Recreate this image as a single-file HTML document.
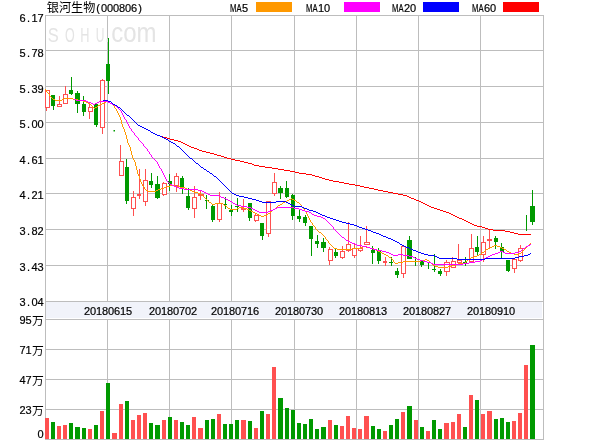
<!DOCTYPE html><html><head><meta charset="utf-8"><title>银河生物(000806)</title><style>html,body{margin:0;padding:0;background:#fff}svg{display:block}</style></head><body><svg width="600" height="440" viewBox="0 0 600 440"><rect width="600" height="440" fill="#fff"/><rect x="46" y="302" width="496" height="16" fill="#f1f3fa"/><g fill="#bdbdbd" shape-rendering="crispEdges"><rect x="45" y="15" width="499" height="1"/><rect x="45" y="50" width="499" height="1"/><rect x="45" y="86" width="499" height="1"/><rect x="45" y="122" width="499" height="1"/><rect x="45" y="158" width="499" height="1"/><rect x="45" y="193" width="499" height="1"/><rect x="45" y="229" width="499" height="1"/><rect x="45" y="265" width="499" height="1"/><rect x="45" y="301" width="499" height="1"/><rect x="45" y="319" width="499" height="1"/><rect x="45" y="349" width="499" height="1"/><rect x="45" y="379" width="499" height="1"/><rect x="45" y="409" width="499" height="1"/><rect x="45" y="439" width="499" height="1"/><rect x="45" y="15" width="1" height="425"/><rect x="107" y="15" width="1" height="287"/><rect x="107" y="319" width="1" height="121"/><rect x="169" y="15" width="1" height="287"/><rect x="169" y="319" width="1" height="121"/><rect x="231" y="15" width="1" height="287"/><rect x="231" y="319" width="1" height="121"/><rect x="294" y="15" width="1" height="287"/><rect x="294" y="319" width="1" height="121"/><rect x="356" y="15" width="1" height="287"/><rect x="356" y="319" width="1" height="121"/><rect x="418" y="15" width="1" height="287"/><rect x="418" y="319" width="1" height="121"/><rect x="480" y="15" width="1" height="287"/><rect x="480" y="319" width="1" height="121"/><rect x="543" y="15" width="1" height="425"/></g><g fill="#e4e4e4" font-family="Liberation Sans, sans-serif"><text x="47.7" y="42" font-size="20.5px" textLength="11.0" lengthAdjust="spacingAndGlyphs">S</text><text x="64.9" y="42" font-size="20.5px" textLength="9.7" lengthAdjust="spacingAndGlyphs">O</text><text x="80.3" y="42" font-size="20.5px" textLength="9.2" lengthAdjust="spacingAndGlyphs">H</text><text x="95.7" y="42" font-size="20.5px" textLength="8.7" lengthAdjust="spacingAndGlyphs">U</text><text x="104.5" y="42" font-size="28px" textLength="52" lengthAdjust="spacingAndGlyphs">.com</text></g><g shape-rendering="crispEdges"><rect x="46" y="108" width="1" height="3" fill="#ff5050"/><rect x="45.5" y="90.5" width="4" height="17" fill="#fff" stroke="#ff5050" stroke-width="1"/><rect x="53" y="95" width="1" height="15" fill="#009900"/><rect x="51" y="95" width="4" height="11" fill="#009900"/><rect x="59" y="96" width="1" height="8" fill="#ff5050"/><rect x="57.5" y="104.5" width="4" height="2" fill="#fff" stroke="#ff5050" stroke-width="1"/><rect x="65" y="86" width="1" height="8" fill="#ff5050"/><rect x="63.5" y="94.5" width="4" height="9" fill="#fff" stroke="#ff5050" stroke-width="1"/><rect x="71" y="77" width="1" height="18" fill="#009900"/><rect x="69" y="90" width="4" height="4" fill="#009900"/><rect x="77" y="91" width="1" height="22" fill="#009900"/><rect x="75" y="93" width="5" height="11" fill="#009900"/><rect x="83" y="96" width="1" height="20" fill="#009900"/><rect x="82" y="104" width="4" height="8" fill="#009900"/><rect x="89" y="104" width="1" height="3" fill="#ff5050"/><rect x="89" y="112" width="1" height="7" fill="#ff5050"/><rect x="88.5" y="107.5" width="4" height="4" fill="#fff" stroke="#ff5050" stroke-width="1"/><rect x="96" y="104" width="1" height="23" fill="#009900"/><rect x="94" y="104" width="4" height="21" fill="#009900"/><rect x="102" y="79" width="1" height="1" fill="#ff5050"/><rect x="102" y="128" width="1" height="6" fill="#ff5050"/><rect x="100.5" y="80.5" width="4" height="47" fill="#fff" stroke="#ff5050" stroke-width="1"/><rect x="108" y="38" width="1" height="56" fill="#009900"/><rect x="106" y="64" width="4" height="17" fill="#009900"/><rect x="113.5" y="130" width="1.5" height="1.5" fill="#009900" shape-rendering="auto"/><rect x="120" y="145" width="1" height="16" fill="#ff5050"/><rect x="119.5" y="161.5" width="4" height="14" fill="#fff" stroke="#ff5050" stroke-width="1"/><rect x="126" y="159" width="1" height="45" fill="#009900"/><rect x="125" y="167" width="4" height="34" fill="#009900"/><rect x="133" y="191" width="1" height="6" fill="#ff5050"/><rect x="133" y="209" width="1" height="7" fill="#ff5050"/><rect x="131.5" y="197.5" width="4" height="11" fill="#fff" stroke="#ff5050" stroke-width="1"/><rect x="139" y="169" width="1" height="30" fill="#ff5050"/><rect x="137" y="194" width="4" height="2" fill="#ff5050"/><rect x="145" y="169" width="1" height="11" fill="#ff5050"/><rect x="145" y="202" width="1" height="4" fill="#ff5050"/><rect x="143.5" y="180.5" width="4" height="21" fill="#fff" stroke="#ff5050" stroke-width="1"/><rect x="151" y="173" width="1" height="15" fill="#009900"/><rect x="149" y="181" width="4" height="4" fill="#009900"/><rect x="157" y="176" width="1" height="23" fill="#009900"/><rect x="155" y="184" width="5" height="14" fill="#009900"/><rect x="163" y="182" width="1" height="1" fill="#ff5050"/><rect x="163" y="195" width="1" height="1" fill="#ff5050"/><rect x="162.5" y="183.5" width="4" height="11" fill="#fff" stroke="#ff5050" stroke-width="1"/><rect x="169" y="174" width="1" height="17" fill="#009900"/><rect x="168" y="181" width="4" height="3" fill="#009900"/><rect x="176" y="173" width="1" height="3" fill="#ff5050"/><rect x="176" y="186" width="1" height="6" fill="#ff5050"/><rect x="174.5" y="176.5" width="4" height="9" fill="#fff" stroke="#ff5050" stroke-width="1"/><rect x="182" y="176" width="1" height="18" fill="#009900"/><rect x="180" y="178" width="4" height="11" fill="#009900"/><rect x="188" y="188" width="1" height="22" fill="#009900"/><rect x="186" y="196" width="4" height="12" fill="#009900"/><rect x="194" y="186" width="1" height="11" fill="#ff5050"/><rect x="194" y="209" width="1" height="9" fill="#ff5050"/><rect x="192.5" y="197.5" width="4" height="11" fill="#fff" stroke="#ff5050" stroke-width="1"/><rect x="200" y="190" width="1" height="4" fill="#ff5050"/><rect x="200" y="196" width="1" height="4" fill="#ff5050"/><rect x="198.5" y="194.5" width="5" height="1" fill="#fff" stroke="#ff5050" stroke-width="1"/><rect x="206" y="195" width="1" height="14" fill="#009900"/><rect x="205" y="200" width="4" height="1" fill="#009900"/><rect x="212" y="205" width="1" height="17" fill="#009900"/><rect x="211" y="206" width="4" height="14" fill="#009900"/><rect x="219" y="192" width="1" height="11" fill="#ff5050"/><rect x="219" y="220" width="1" height="2" fill="#ff5050"/><rect x="217.5" y="203.5" width="4" height="16" fill="#fff" stroke="#ff5050" stroke-width="1"/><rect x="225" y="197" width="1" height="12" fill="#009900"/><rect x="223" y="204" width="4" height="1" fill="#009900"/><rect x="231" y="205" width="1" height="11" fill="#009900"/><rect x="229" y="210" width="4" height="2" fill="#009900"/><rect x="237" y="198" width="1" height="14" fill="#009900"/><rect x="235" y="206" width="4" height="1" fill="#009900"/><rect x="243" y="199" width="1" height="13" fill="#ff5050"/><rect x="241" y="208" width="5" height="2" fill="#ff5050"/><rect x="249" y="203" width="1" height="18" fill="#009900"/><rect x="248" y="203" width="4" height="15" fill="#009900"/><rect x="255" y="214" width="1" height="1" fill="#ff5050"/><rect x="255" y="221" width="1" height="1" fill="#ff5050"/><rect x="254.5" y="215.5" width="4" height="5" fill="#fff" stroke="#ff5050" stroke-width="1"/><rect x="262" y="223" width="1" height="17" fill="#009900"/><rect x="260" y="223" width="4" height="13" fill="#009900"/><rect x="268" y="234" width="1" height="3" fill="#ff5050"/><rect x="266.5" y="201.5" width="4" height="32" fill="#fff" stroke="#ff5050" stroke-width="1"/><rect x="274" y="173" width="1" height="9" fill="#ff5050"/><rect x="274" y="194" width="1" height="2" fill="#ff5050"/><rect x="272.5" y="182.5" width="4" height="11" fill="#fff" stroke="#ff5050" stroke-width="1"/><rect x="280" y="186" width="1" height="13" fill="#009900"/><rect x="278" y="188" width="5" height="5" fill="#009900"/><rect x="286" y="181" width="1" height="17" fill="#009900"/><rect x="285" y="188" width="4" height="9" fill="#009900"/><rect x="292" y="194" width="1" height="26" fill="#009900"/><rect x="291" y="195" width="4" height="21" fill="#009900"/><rect x="299" y="209" width="1" height="13" fill="#009900"/><rect x="297" y="216" width="4" height="3" fill="#009900"/><rect x="305" y="215" width="1" height="11" fill="#009900"/><rect x="303" y="217" width="4" height="6" fill="#009900"/><rect x="311" y="226" width="1" height="30" fill="#009900"/><rect x="309" y="226" width="4" height="13" fill="#009900"/><rect x="317" y="235" width="1" height="13" fill="#009900"/><rect x="315" y="241" width="4" height="3" fill="#009900"/><rect x="323" y="238" width="1" height="14" fill="#009900"/><rect x="321" y="242" width="5" height="6" fill="#009900"/><rect x="329" y="247" width="1" height="2" fill="#ff5050"/><rect x="329" y="261" width="1" height="4" fill="#ff5050"/><rect x="328.5" y="249.5" width="4" height="11" fill="#fff" stroke="#ff5050" stroke-width="1"/><rect x="335" y="249" width="1" height="9" fill="#009900"/><rect x="334" y="252" width="4" height="4" fill="#009900"/><rect x="342" y="246" width="1" height="5" fill="#ff5050"/><rect x="342" y="258" width="1" height="1" fill="#ff5050"/><rect x="340.5" y="251.5" width="4" height="6" fill="#fff" stroke="#ff5050" stroke-width="1"/><rect x="348" y="222" width="1" height="22" fill="#ff5050"/><rect x="348" y="251" width="1" height="1" fill="#ff5050"/><rect x="346.5" y="244.5" width="4" height="6" fill="#fff" stroke="#ff5050" stroke-width="1"/><rect x="354" y="244" width="1" height="4" fill="#ff5050"/><rect x="354" y="256" width="1" height="2" fill="#ff5050"/><rect x="352.5" y="248.5" width="4" height="7" fill="#fff" stroke="#ff5050" stroke-width="1"/><rect x="360" y="236" width="1" height="12" fill="#ff5050"/><rect x="360" y="251" width="1" height="1" fill="#ff5050"/><rect x="358.5" y="248.5" width="4" height="2" fill="#fff" stroke="#ff5050" stroke-width="1"/><rect x="366" y="226" width="1" height="16" fill="#ff5050"/><rect x="364.5" y="242.5" width="5" height="2" fill="#fff" stroke="#ff5050" stroke-width="1"/><rect x="372" y="246" width="1" height="18" fill="#009900"/><rect x="371" y="250" width="4" height="3" fill="#009900"/><rect x="378" y="248" width="1" height="16" fill="#009900"/><rect x="377" y="251" width="4" height="10" fill="#009900"/><rect x="385" y="257" width="1" height="9" fill="#ff5050"/><rect x="383" y="261" width="4" height="2" fill="#ff5050"/><rect x="391" y="257" width="1" height="9" fill="#009900"/><rect x="389" y="262" width="4" height="1" fill="#009900"/><rect x="397" y="268" width="1" height="10" fill="#009900"/><rect x="395" y="271" width="4" height="4" fill="#009900"/><rect x="403" y="274" width="1" height="4" fill="#ff5050"/><rect x="401.5" y="246.5" width="4" height="27" fill="#fff" stroke="#ff5050" stroke-width="1"/><rect x="409" y="236" width="1" height="23" fill="#009900"/><rect x="407" y="240" width="5" height="19" fill="#009900"/><rect x="415" y="257" width="1" height="9" fill="#009900"/><rect x="421" y="260" width="1" height="7" fill="#009900"/><rect x="420" y="261" width="4" height="4" fill="#009900"/><rect x="428" y="262" width="1" height="7" fill="#009900"/><rect x="434" y="254" width="1" height="18" fill="#009900"/><rect x="432" y="269" width="4" height="1" fill="#009900"/><rect x="440" y="269" width="1" height="7" fill="#009900"/><rect x="438" y="271" width="4" height="3" fill="#009900"/><rect x="446" y="260" width="1" height="2" fill="#ff5050"/><rect x="446" y="272" width="1" height="4" fill="#ff5050"/><rect x="444.5" y="262.5" width="5" height="9" fill="#fff" stroke="#ff5050" stroke-width="1"/><rect x="452" y="257" width="1" height="4" fill="#ff5050"/><rect x="451.5" y="261.5" width="4" height="6" fill="#fff" stroke="#ff5050" stroke-width="1"/><rect x="458" y="244" width="1" height="16" fill="#ff5050"/><rect x="458" y="263" width="1" height="1" fill="#ff5050"/><rect x="457.5" y="260.5" width="4" height="2" fill="#fff" stroke="#ff5050" stroke-width="1"/><rect x="465" y="257" width="1" height="9" fill="#009900"/><rect x="463" y="262" width="4" height="2" fill="#009900"/><rect x="471" y="234" width="1" height="14" fill="#ff5050"/><rect x="469.5" y="248.5" width="4" height="13" fill="#fff" stroke="#ff5050" stroke-width="1"/><rect x="477" y="236" width="1" height="19" fill="#009900"/><rect x="475" y="247" width="4" height="5" fill="#009900"/><rect x="483" y="236" width="1" height="6" fill="#ff5050"/><rect x="483" y="255" width="1" height="7" fill="#ff5050"/><rect x="481.5" y="242.5" width="4" height="12" fill="#fff" stroke="#ff5050" stroke-width="1"/><rect x="489" y="229" width="1" height="19" fill="#ff5050"/><rect x="487" y="239" width="5" height="2" fill="#ff5050"/><rect x="495" y="236" width="1" height="13" fill="#009900"/><rect x="494" y="238" width="4" height="4" fill="#009900"/><rect x="501" y="243" width="1" height="15" fill="#009900"/><rect x="500" y="247" width="4" height="5" fill="#009900"/><rect x="508" y="260" width="1" height="12" fill="#009900"/><rect x="506" y="260" width="4" height="11" fill="#009900"/><rect x="514" y="269" width="1" height="4" fill="#ff5050"/><rect x="512.5" y="259.5" width="4" height="9" fill="#fff" stroke="#ff5050" stroke-width="1"/><rect x="520" y="245" width="1" height="3" fill="#ff5050"/><rect x="520" y="261" width="1" height="1" fill="#ff5050"/><rect x="518.5" y="248.5" width="4" height="12" fill="#fff" stroke="#ff5050" stroke-width="1"/><rect x="526" y="215" width="1" height="16" fill="#009900"/><rect x="532" y="190" width="1" height="35" fill="#009900"/><rect x="530" y="206" width="5" height="16" fill="#009900"/></g><g shape-rendering="crispEdges"><rect x="45" y="418" width="4" height="21" fill="#ff5050"/><rect x="51" y="422" width="4" height="17" fill="#009900"/><rect x="57" y="426" width="4" height="13" fill="#ff5050"/><rect x="63" y="425" width="4" height="14" fill="#ff5050"/><rect x="69" y="423" width="4" height="16" fill="#009900"/><rect x="75" y="427" width="5" height="12" fill="#009900"/><rect x="82" y="428" width="4" height="11" fill="#009900"/><rect x="88" y="429" width="4" height="10" fill="#ff5050"/><rect x="94" y="425" width="4" height="14" fill="#009900"/><rect x="100" y="411" width="4" height="28" fill="#ff5050"/><rect x="106" y="383" width="4" height="56" fill="#009900"/><rect x="112" y="433" width="5" height="6" fill="#ff5050"/><rect x="119" y="404" width="4" height="35" fill="#ff5050"/><rect x="125" y="401" width="4" height="38" fill="#009900"/><rect x="131" y="420" width="4" height="19" fill="#ff5050"/><rect x="137" y="415" width="4" height="24" fill="#ff5050"/><rect x="143" y="413" width="4" height="26" fill="#ff5050"/><rect x="149" y="423" width="4" height="16" fill="#009900"/><rect x="155" y="425" width="5" height="14" fill="#009900"/><rect x="162" y="420" width="4" height="19" fill="#ff5050"/><rect x="168" y="417" width="4" height="22" fill="#009900"/><rect x="174" y="420" width="4" height="19" fill="#ff5050"/><rect x="180" y="422" width="4" height="17" fill="#009900"/><rect x="186" y="425" width="4" height="14" fill="#009900"/><rect x="192" y="417" width="4" height="22" fill="#ff5050"/><rect x="198" y="428" width="5" height="11" fill="#ff5050"/><rect x="205" y="420" width="4" height="19" fill="#009900"/><rect x="211" y="419" width="4" height="20" fill="#009900"/><rect x="217" y="414" width="4" height="25" fill="#ff5050"/><rect x="223" y="424" width="4" height="15" fill="#009900"/><rect x="229" y="424" width="4" height="15" fill="#009900"/><rect x="235" y="420" width="4" height="19" fill="#009900"/><rect x="241" y="420" width="5" height="19" fill="#ff5050"/><rect x="248" y="421" width="4" height="18" fill="#009900"/><rect x="254" y="428" width="4" height="11" fill="#ff5050"/><rect x="260" y="411" width="4" height="28" fill="#009900"/><rect x="266" y="414" width="4" height="25" fill="#ff5050"/><rect x="272" y="367" width="4" height="72" fill="#ff5050"/><rect x="278" y="398" width="5" height="41" fill="#009900"/><rect x="285" y="408" width="4" height="31" fill="#009900"/><rect x="291" y="410" width="4" height="29" fill="#009900"/><rect x="297" y="423" width="4" height="16" fill="#009900"/><rect x="303" y="424" width="4" height="15" fill="#009900"/><rect x="309" y="419" width="4" height="20" fill="#009900"/><rect x="315" y="429" width="4" height="10" fill="#009900"/><rect x="321" y="427" width="5" height="12" fill="#009900"/><rect x="328" y="420" width="4" height="19" fill="#ff5050"/><rect x="334" y="425" width="4" height="14" fill="#009900"/><rect x="340" y="426" width="4" height="13" fill="#ff5050"/><rect x="346" y="416" width="4" height="23" fill="#ff5050"/><rect x="352" y="428" width="4" height="11" fill="#ff5050"/><rect x="358" y="429" width="4" height="10" fill="#ff5050"/><rect x="364" y="416" width="5" height="23" fill="#ff5050"/><rect x="371" y="426" width="4" height="13" fill="#009900"/><rect x="377" y="429" width="4" height="10" fill="#009900"/><rect x="383" y="431" width="4" height="8" fill="#ff5050"/><rect x="389" y="425" width="4" height="14" fill="#009900"/><rect x="395" y="419" width="4" height="20" fill="#009900"/><rect x="401" y="412" width="4" height="27" fill="#ff5050"/><rect x="407" y="406" width="5" height="33" fill="#009900"/><rect x="414" y="420" width="4" height="19" fill="#ff5050"/><rect x="420" y="427" width="4" height="12" fill="#009900"/><rect x="426" y="431" width="4" height="8" fill="#ff5050"/><rect x="432" y="420" width="4" height="19" fill="#009900"/><rect x="438" y="429" width="4" height="10" fill="#009900"/><rect x="444" y="423" width="5" height="16" fill="#ff5050"/><rect x="451" y="422" width="4" height="17" fill="#ff5050"/><rect x="457" y="414" width="4" height="25" fill="#ff5050"/><rect x="463" y="427" width="4" height="12" fill="#009900"/><rect x="469" y="395" width="4" height="44" fill="#ff5050"/><rect x="475" y="400" width="4" height="39" fill="#009900"/><rect x="481" y="414" width="4" height="25" fill="#ff5050"/><rect x="487" y="411" width="5" height="28" fill="#ff5050"/><rect x="494" y="419" width="4" height="20" fill="#009900"/><rect x="500" y="418" width="4" height="21" fill="#009900"/><rect x="506" y="422" width="4" height="17" fill="#009900"/><rect x="512" y="421" width="4" height="18" fill="#ff5050"/><rect x="518" y="413" width="4" height="26" fill="#ff5050"/><rect x="524" y="365" width="4" height="74" fill="#ff5050"/><rect x="530" y="345" width="5" height="94" fill="#009900"/></g><path d="M161 136.5h2M163 137.5h4M167 138.5h3M170 139.5h4M174 140.5h4M178 141.5h3M181 142.5h2M183 143.5h2M185 144.5h2M187 145.5h2M189 146.5h2M191 147.5h3M194 148.5h3M197 149.5h2M199 150.5h3M202 151.5h4M206 152.5h4M210 153.5h4M214 154.5h3M217 155.5h4M221 156.5h3M224 157.5h3M227 158.5h4M231 159.5h4M235 160.5h5M240 161.5h4M244 162.5h4M248 163.5h4M252 164.5h2M254 165.5h5M259 166.5h6M265 167.5h7M272 168.5h6M278 169.5h6M284 170.5h6M290 171.5h5M295 172.5h4M299 173.5h7M306 174.5h6M312 175.5h3M315 176.5h4M319 177.5h3M322 178.5h3M325 179.5h4M329 180.5h4M333 181.5h6M339 182.5h5M344 183.5h5M349 184.5h6M355 185.5h5M360 186.5h4M364 187.5h5M369 188.5h5M374 189.5h4M378 190.5h5M383 191.5h5M388 192.5h5M393 193.5h5M398 194.5h5M403 195.5h4M407 196.5h2M409 197.5h2M411 198.5h3M414 199.5h2M416 200.5h3M419 201.5h2M421 202.5h2M423 203.5h2M425 204.5h2M427 205.5h2M429 206.5h2M431 207.5h3M434 208.5h3M437 209.5h3M440 210.5h3M443 211.5h3M446 212.5h3M449 213.5h2M451 214.5h2M453 215.5h2M455 216.5h2M457 217.5h2M459 218.5h3M462 219.5h2M464 220.5h2M466 221.5h2M468 222.5h2M470 223.5h2M472 224.5h2M474 225.5h3M477 226.5h5M482 227.5h3M485 228.5h3M488 229.5h5M493 230.5h12M505 231.5h5M510 232.5h4M514 233.5h4M518 234.5h13" fill="none" stroke="#ff0000" stroke-width="1" shape-rendering="crispEdges"/><path d="M45 89.5h1M46 90.5h1M46 91.5h1M47 92.5h1M48 93.5h1M49 94.5h1M49 95.5h1M50 96.5h1M51 97.5h1M52 98.5h1M64 98.5h9M53 99.5h2M62 99.5h2M73 99.5h5M55 100.5h7M78 100.5h5M83 101.5h3M106 101.5h2M86 102.5h2M104 102.5h2M108 102.5h2M88 103.5h2M102 103.5h2M110 103.5h2M90 104.5h1M100 104.5h2M112 104.5h1M91 105.5h1M98 105.5h2M113 105.5h1M92 106.5h1M97 106.5h1M114 106.5h1M93 107.5h1M95 107.5h2M114 107.5h1M94 108.5h1M115 108.5h1M116 109.5h1M116 110.5h1M117 111.5h1M117 112.5h1M118 113.5h1M118 114.5h1M119 115.5h1M119 116.5h1M120 117.5h1M120 118.5h1M120 119.5h1M121 120.5h1M121 121.5h1M121 122.5h1M121 123.5h1M122 124.5h1M122 125.5h1M122 126.5h1M123 127.5h1M123 128.5h1M124 129.5h1M124 130.5h1M124 131.5h1M125 132.5h1M125 133.5h1M125 134.5h1M126 135.5h1M126 136.5h1M126 137.5h1M126 138.5h1M127 139.5h1M127 140.5h1M127 141.5h1M127 142.5h1M128 143.5h1M128 144.5h1M129 145.5h1M129 146.5h1M130 147.5h1M130 148.5h1M130 149.5h1M130 150.5h1M131 151.5h1M131 152.5h1M131 153.5h1M131 154.5h1M132 155.5h1M132 156.5h1M132 157.5h1M133 158.5h1M133 159.5h1M134 160.5h1M134 161.5h1M135 162.5h1M135 163.5h1M135 164.5h1M135 165.5h1M136 166.5h1M136 167.5h1M136 168.5h1M136 169.5h1M137 170.5h1M137 171.5h1M137 172.5h1M137 173.5h1M138 174.5h1M138 175.5h1M139 176.5h1M139 177.5h1M139 178.5h1M140 179.5h1M140 180.5h1M140 181.5h1M141 182.5h1M141 183.5h1M142 184.5h1M142 185.5h1M170 185.5h5M143 186.5h1M166 186.5h4M175 186.5h5M144 187.5h1M164 187.5h2M180 187.5h5M144 188.5h1M161 188.5h3M185 188.5h2M145 189.5h1M158 189.5h3M187 189.5h3M146 190.5h2M156 190.5h2M190 190.5h2M148 191.5h8M192 191.5h2M194 192.5h4M198 193.5h3M201 194.5h1M202 195.5h1M203 196.5h1M204 197.5h1M205 198.5h1M291 198.5h1M206 199.5h1M289 199.5h2M292 199.5h2M207 200.5h1M287 200.5h2M294 200.5h2M208 201.5h1M285 201.5h2M296 201.5h1M209 202.5h2M283 202.5h2M297 202.5h2M211 203.5h1M215 203.5h8M282 203.5h1M299 203.5h1M212 204.5h3M223 204.5h1M280 204.5h2M300 204.5h1M224 205.5h2M278 205.5h2M301 205.5h1M226 206.5h1M277 206.5h1M301 206.5h1M227 207.5h1M239 207.5h4M276 207.5h1M302 207.5h1M228 208.5h2M237 208.5h2M243 208.5h4M275 208.5h1M303 208.5h1M230 209.5h7M247 209.5h2M273 209.5h2M304 209.5h1M249 210.5h2M272 210.5h1M304 210.5h1M251 211.5h2M271 211.5h1M305 211.5h1M253 212.5h2M270 212.5h1M306 212.5h1M255 213.5h2M268 213.5h2M306 213.5h1M257 214.5h2M267 214.5h1M307 214.5h1M259 215.5h2M264 215.5h3M307 215.5h1M261 216.5h3M308 216.5h1M308 217.5h1M309 218.5h1M309 219.5h1M310 220.5h1M310 221.5h1M311 222.5h1M312 223.5h1M312 224.5h1M313 225.5h1M314 226.5h1M315 227.5h1M315 228.5h1M316 229.5h1M317 230.5h1M318 231.5h1M319 232.5h2M321 233.5h1M322 234.5h1M323 235.5h1M324 236.5h1M325 237.5h1M325 238.5h1M326 239.5h1M327 240.5h1M328 241.5h1M328 242.5h1M329 243.5h1M530 243.5h1M330 244.5h1M529 244.5h1M331 245.5h1M494 245.5h3M528 245.5h1M332 246.5h1M363 246.5h3M492 246.5h2M497 246.5h3M527 246.5h1M333 247.5h1M361 247.5h2M366 247.5h4M490 247.5h2M500 247.5h2M526 247.5h1M334 248.5h3M352 248.5h9M370 248.5h4M488 248.5h2M502 248.5h2M525 248.5h1M337 249.5h15M374 249.5h2M486 249.5h2M504 249.5h2M524 249.5h1M376 250.5h2M485 250.5h1M506 250.5h1M523 250.5h1M378 251.5h2M484 251.5h1M507 251.5h2M522 251.5h1M380 252.5h2M482 252.5h2M509 252.5h2M521 252.5h1M382 253.5h2M481 253.5h1M511 253.5h3M519 253.5h2M384 254.5h2M479 254.5h2M514 254.5h5M386 255.5h2M477 255.5h2M388 256.5h1M474 256.5h3M389 257.5h2M471 257.5h3M391 258.5h1M469 258.5h2M392 259.5h1M425 259.5h2M468 259.5h1M393 260.5h1M421 260.5h4M427 260.5h2M467 260.5h1M393 261.5h1M403 261.5h18M429 261.5h1M466 261.5h1M394 262.5h1M398 262.5h5M430 262.5h1M465 262.5h1M395 263.5h3M431 263.5h1M458 263.5h7M432 264.5h1M455 264.5h3M433 265.5h2M452 265.5h3M435 266.5h3M448 266.5h4M438 267.5h10" fill="none" stroke="#ff9900" stroke-width="1" shape-rendering="crispEdges"/><path d="M74 99.5h2M76 100.5h10M86 101.5h2M99 101.5h9M88 102.5h3M97 102.5h2M108 102.5h2M91 103.5h2M95 103.5h2M110 103.5h2M93 104.5h2M112 104.5h2M114 105.5h2M116 106.5h1M117 107.5h1M118 108.5h1M119 109.5h1M120 110.5h1M121 111.5h1M121 112.5h1M122 113.5h1M122 114.5h1M123 115.5h1M123 116.5h1M124 117.5h1M124 118.5h1M125 119.5h1M126 120.5h1M126 121.5h1M127 122.5h1M127 123.5h1M128 124.5h1M128 125.5h1M129 126.5h1M129 127.5h1M130 128.5h1M131 129.5h1M131 130.5h1M132 131.5h1M133 132.5h1M134 133.5h1M134 134.5h1M135 135.5h1M136 136.5h1M137 137.5h1M138 138.5h1M138 139.5h1M139 140.5h1M140 141.5h1M141 142.5h1M142 143.5h1M143 144.5h1M143 145.5h1M144 146.5h1M145 147.5h1M146 148.5h1M147 149.5h1M147 150.5h1M148 151.5h1M149 152.5h1M149 153.5h1M150 154.5h1M151 155.5h1M151 156.5h1M152 157.5h1M153 158.5h1M154 159.5h1M155 160.5h1M156 161.5h1M157 162.5h1M157 163.5h1M158 164.5h1M158 165.5h1M159 166.5h1M159 167.5h1M160 168.5h1M161 169.5h1M161 170.5h1M162 171.5h1M162 172.5h1M163 173.5h1M163 174.5h1M164 175.5h1M164 176.5h1M165 177.5h1M165 178.5h1M166 179.5h1M166 180.5h1M167 181.5h1M168 182.5h1M169 183.5h1M170 184.5h2M172 185.5h2M174 186.5h3M177 187.5h2M179 188.5h5M184 189.5h14M198 190.5h4M202 191.5h2M204 192.5h2M206 193.5h2M208 194.5h2M210 195.5h9M219 196.5h2M221 197.5h3M224 198.5h2M226 199.5h2M228 200.5h2M230 201.5h2M232 202.5h1M233 203.5h2M235 204.5h2M237 205.5h4M241 206.5h6M247 207.5h4M277 207.5h17M251 208.5h2M275 208.5h2M294 208.5h5M253 209.5h2M273 209.5h2M299 209.5h3M255 210.5h2M270 210.5h3M302 210.5h3M257 211.5h2M268 211.5h2M305 211.5h4M259 212.5h9M309 212.5h2M311 213.5h1M312 214.5h2M314 215.5h3M317 216.5h4M321 217.5h2M323 218.5h2M325 219.5h1M326 220.5h1M327 221.5h1M328 222.5h1M329 223.5h1M330 224.5h1M331 225.5h1M332 226.5h1M333 227.5h1M333 228.5h1M334 229.5h1M335 230.5h1M336 231.5h1M337 232.5h1M338 233.5h1M339 234.5h1M340 235.5h1M341 236.5h1M342 237.5h2M344 238.5h1M345 239.5h1M346 240.5h2M348 241.5h2M350 242.5h2M352 243.5h3M355 244.5h2M530 244.5h1M357 245.5h5M528 245.5h2M362 246.5h5M526 246.5h2M367 247.5h3M525 247.5h1M370 248.5h3M523 248.5h2M373 249.5h4M522 249.5h1M377 250.5h5M521 250.5h1M382 251.5h4M500 251.5h3M519 251.5h2M386 252.5h3M498 252.5h2M503 252.5h2M515 252.5h4M389 253.5h2M495 253.5h3M505 253.5h10M391 254.5h2M398 254.5h5M492 254.5h3M393 255.5h5M403 255.5h6M490 255.5h2M409 256.5h4M488 256.5h2M413 257.5h2M486 257.5h2M415 258.5h2M484 258.5h2M417 259.5h3M482 259.5h2M420 260.5h3M480 260.5h2M423 261.5h4M475 261.5h5M427 262.5h4M469 262.5h6M431 263.5h2M463 263.5h6M433 264.5h30" fill="none" stroke="#ff00ff" stroke-width="1" shape-rendering="crispEdges"/><path d="M103 100.5h5M108 101.5h3M111 102.5h1M112 103.5h1M113 104.5h2M115 105.5h2M117 106.5h1M118 107.5h2M120 108.5h1M121 109.5h1M122 110.5h1M123 111.5h1M124 112.5h1M125 113.5h1M126 114.5h1M127 115.5h2M129 116.5h1M130 117.5h1M131 118.5h1M132 119.5h1M133 120.5h1M134 121.5h1M135 122.5h1M136 123.5h1M137 124.5h1M138 125.5h2M140 126.5h2M142 127.5h2M144 128.5h2M146 129.5h2M148 130.5h2M150 131.5h1M151 132.5h2M153 133.5h2M155 134.5h2M157 135.5h3M160 136.5h2M162 137.5h2M164 138.5h2M166 139.5h2M168 140.5h1M169 141.5h2M171 142.5h2M173 143.5h2M175 144.5h1M176 145.5h1M177 146.5h2M179 147.5h1M180 148.5h1M181 149.5h1M182 150.5h1M183 151.5h1M184 152.5h1M185 153.5h1M186 154.5h1M187 155.5h1M188 156.5h1M189 157.5h1M190 158.5h2M192 159.5h1M193 160.5h1M194 161.5h1M195 162.5h1M196 163.5h2M198 164.5h1M199 165.5h1M200 166.5h1M201 167.5h2M203 168.5h1M204 169.5h2M206 170.5h1M207 171.5h2M209 172.5h1M210 173.5h2M212 174.5h1M213 175.5h1M214 176.5h2M216 177.5h1M217 178.5h1M218 179.5h1M219 180.5h1M220 181.5h1M221 182.5h1M222 183.5h1M223 184.5h1M224 185.5h1M225 186.5h1M226 187.5h1M227 188.5h1M228 189.5h1M229 190.5h1M230 191.5h1M231 192.5h1M232 193.5h2M234 194.5h2M236 195.5h3M239 196.5h5M244 197.5h4M248 198.5h4M252 199.5h4M256 200.5h3M259 201.5h3M276 201.5h10M262 202.5h14M286 202.5h2M288 203.5h2M290 204.5h2M292 205.5h2M294 206.5h8M302 207.5h2M304 208.5h3M307 209.5h2M309 210.5h4M313 211.5h3M316 212.5h2M318 213.5h2M320 214.5h2M322 215.5h3M325 216.5h2M327 217.5h3M330 218.5h3M333 219.5h3M336 220.5h3M339 221.5h3M342 222.5h4M346 223.5h4M350 224.5h4M354 225.5h3M357 226.5h2M359 227.5h3M362 228.5h3M365 229.5h3M368 230.5h3M371 231.5h2M373 232.5h3M376 233.5h3M379 234.5h2M381 235.5h2M383 236.5h3M386 237.5h2M388 238.5h3M391 239.5h2M393 240.5h2M395 241.5h2M397 242.5h2M399 243.5h1M400 244.5h2M402 245.5h2M404 246.5h2M406 247.5h3M409 248.5h2M411 249.5h2M413 250.5h3M416 251.5h2M418 252.5h3M421 253.5h3M530 253.5h1M424 254.5h4M528 254.5h2M428 255.5h7M524 255.5h4M435 256.5h2M519 256.5h5M437 257.5h2M515 257.5h4M439 258.5h18M485 258.5h30M457 259.5h28" fill="none" stroke="#0000ff" stroke-width="1" shape-rendering="crispEdges"/><rect x="256" y="2" width="36" height="10" fill="#ff9900" shape-rendering="crispEdges"/><rect x="344" y="2" width="36" height="10" fill="#ff00ff" shape-rendering="crispEdges"/><rect x="423" y="2" width="36" height="10" fill="#0000ff" shape-rendering="crispEdges"/><rect x="503" y="2" width="36" height="10" fill="#ff0000" shape-rendering="crispEdges"/><g font-family="Liberation Sans, sans-serif" font-size="11px" fill="#000" stroke="#000" stroke-width="0.2"><text x="230" y="12" textLength="11.5" lengthAdjust="spacingAndGlyphs">MA</text><text x="242" y="12">5</text><text x="306" y="12" textLength="11.5" lengthAdjust="spacingAndGlyphs">MA</text><text x="318 324" y="12">10</text><text x="392" y="12" textLength="11.5" lengthAdjust="spacingAndGlyphs">MA</text><text x="404 410" y="12">20</text><text x="472" y="12" textLength="11.5" lengthAdjust="spacingAndGlyphs">MA</text><text x="484 490" y="12">60</text><text x="19.5 27 31.5 37.5" y="21.5">6.17</text><text x="19.5 27 31.5 37.5" y="57">5.78</text><text x="19.5 27 31.5 37.5" y="92.5">5.39</text><text x="19.5 27 31.5 37.5" y="128">5.00</text><text x="19.5 27 31.5 37.5" y="163.5">4.61</text><text x="19.5 27 31.5 37.5" y="199">4.21</text><text x="19.5 27 31.5 37.5" y="235">3.82</text><text x="19.5 27 31.5 37.5" y="270.5">3.43</text><text x="19.5 27 31.5 37.5" y="306">3.04</text><text x="19.5 25.5" y="324">95</text><text x="19.5 25.5" y="354">71</text><text x="19.5 25.5" y="384">47</text><text x="19.5 25.5" y="414">23</text><text x="37.6" y="437.7">0</text><text x="84 90 96 102 108 114 120 126" y="315">20180615</text><text x="149 155 161 167 173 179 185 191" y="315">20180702</text><text x="211 217 223 229 235 241 247 253" y="315">20180716</text><text x="275 281 287 293 299 305 311 317" y="315">20180730</text><text x="339 345 351 357 363 369 375 381" y="315">20180813</text><text x="403 409 415 421 427 433 439 445" y="315">20180827</text><text x="467 473 479 485 491 497 503 509" y="315">20180910</text><text x="96.2 101 107 113 119 125 131 138.2" y="12">(000806)</text></g><g font-family="Liberation Sans, Noto Sans CJK SC, sans-serif" font-weight="400" font-size="12.5px" fill="#000"><text x="46.8" y="12.2" textLength="48.5" lengthAdjust="spacingAndGlyphs">银河生物</text><text x="32" y="325" font-size="11.8px">万</text><text x="32" y="355" font-size="11.8px">万</text><text x="32" y="385" font-size="11.8px">万</text><text x="32" y="415" font-size="11.8px">万</text></g></svg></body></html>
